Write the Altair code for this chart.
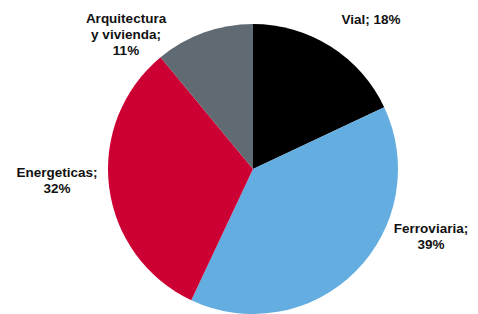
import altair as alt
import pandas as pd

categories = ["Vial", "Ferroviaria", "Energeticas", "Arquitectura y vivienda"]
values = [18, 39, 32, 11]
label_lines = [["Vial; 18%"], ["Ferroviaria;", "39%"], ["Energeticas;", "32%"], ["Arquitectura", "y vivienda;", "11%"]]
colors = ["#000000", "#63ADE0", "#CC0033", "#5F6A72"]

df = pd.DataFrame({"cat": categories, "val": values, "ord": list(range(len(categories)))})

CX, CY, R = 245, 161, 145

pie = alt.Chart(df).mark_arc(radius=R, stroke=None).encode(
    theta=alt.Theta("val:Q", stack=True),
    color=alt.Color("cat:N", scale=alt.Scale(domain=categories, range=colors), legend=None),
    order=alt.Order("ord:Q"),
    x=alt.value(CX),
    y=alt.value(CY),
)

label_pos = {
    "Vial": (363, 12),
    "Ferroviaria": (423, 221),
    "Energeticas": (49, 165),
    "Arquitectura y vivienda": (118, 11),
}

layers = [pie]
for cat, lines in zip(categories, label_lines):
    px, py = label_pos[cat]
    ldf = pd.DataFrame({"cat": [cat], "lbl": [lines]})
    layers.append(
        alt.Chart(ldf).mark_text(
            font="Liberation Sans", fontWeight="bold", fontSize=13.5,
            lineHeight=16, align="center", baseline="middle", color="#111111"
        ).encode(text="lbl", x=alt.value(px), y=alt.value(py))
    )

chart = alt.layer(*layers).properties(
    width=462, height=306, padding=0,
    autosize=alt.AutoSizeParams(type="fit", contains="padding"),
).configure_view(stroke=None)

chart.save("out.html", embed_options={"renderer": "svg", "actions": False})
